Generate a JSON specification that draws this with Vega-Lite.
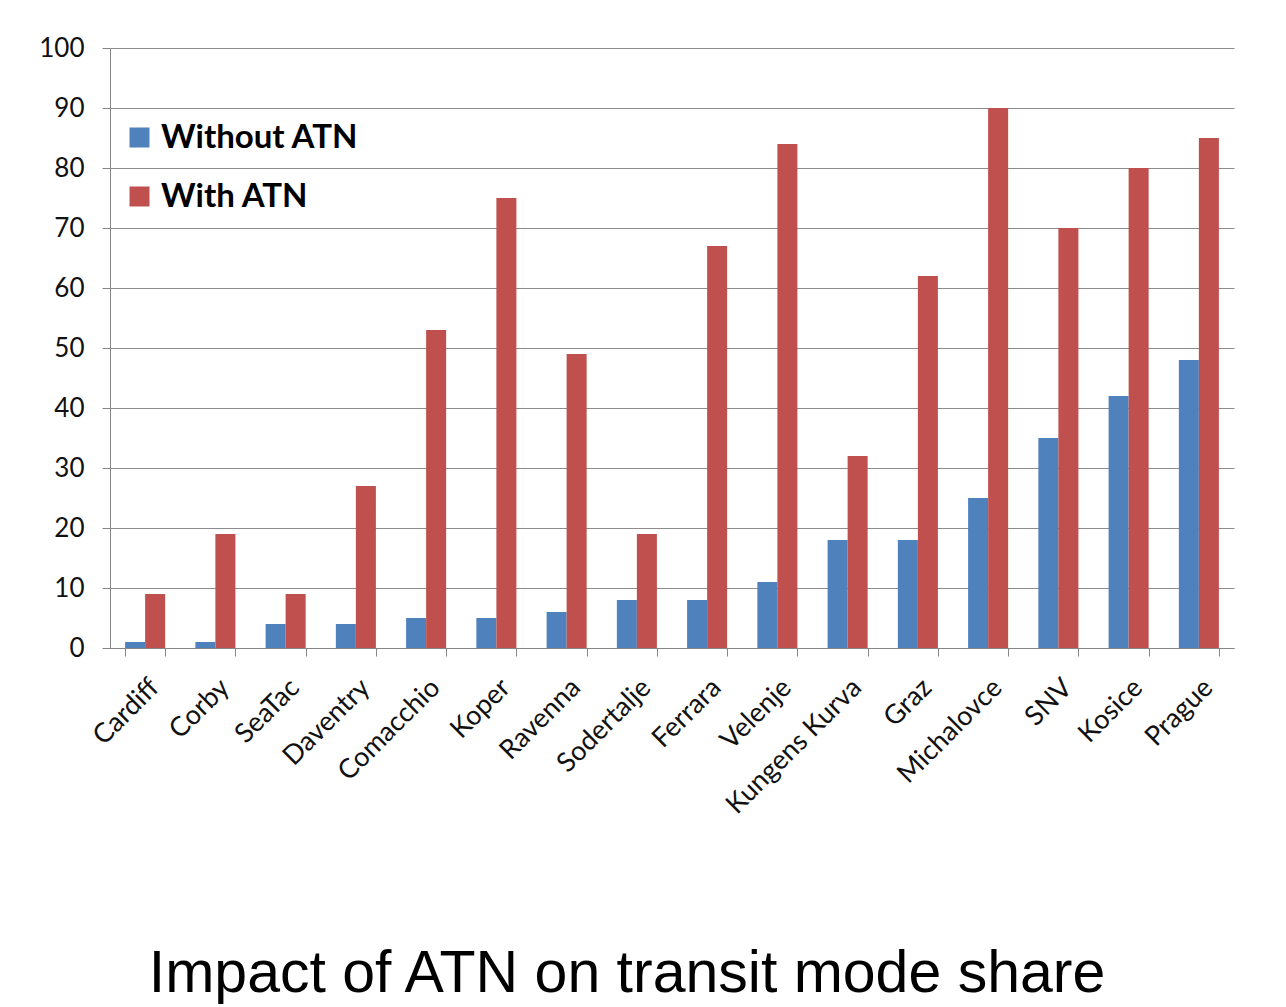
{
  "$schema": "https://vega.github.io/schema/vega-lite/v6.json",
  "width": 1124,
  "height": 600,
  "autosize": {"type": "none"},
  "padding": {"left": 110, "top": 48, "right": 52, "bottom": 359},
  "background": "white",
  "title": {
    "text": "Impact of ATN on transit mode share",
    "orient": "bottom",
    "anchor": "middle",
    "offset": 127,
    "dx": -45,
    "font": "Liberation Sans",
    "fontSize": 59,
    "fontWeight": "normal",
    "color": "#000000"
  },
  "data": {
    "values": [
      {"city": "Cardiff", "series": "Without ATN", "share": 1},
      {"city": "Cardiff", "series": "With ATN", "share": 9},
      {"city": "Corby", "series": "Without ATN", "share": 1},
      {"city": "Corby", "series": "With ATN", "share": 19},
      {"city": "SeaTac", "series": "Without ATN", "share": 4},
      {"city": "SeaTac", "series": "With ATN", "share": 9},
      {"city": "Daventry", "series": "Without ATN", "share": 4},
      {"city": "Daventry", "series": "With ATN", "share": 27},
      {"city": "Comacchio", "series": "Without ATN", "share": 5},
      {"city": "Comacchio", "series": "With ATN", "share": 53},
      {"city": "Koper", "series": "Without ATN", "share": 5},
      {"city": "Koper", "series": "With ATN", "share": 75},
      {"city": "Ravenna", "series": "Without ATN", "share": 6},
      {"city": "Ravenna", "series": "With ATN", "share": 49},
      {"city": "Sodertalje", "series": "Without ATN", "share": 8},
      {"city": "Sodertalje", "series": "With ATN", "share": 19},
      {"city": "Ferrara", "series": "Without ATN", "share": 8},
      {"city": "Ferrara", "series": "With ATN", "share": 67},
      {"city": "Velenje", "series": "Without ATN", "share": 11},
      {"city": "Velenje", "series": "With ATN", "share": 84},
      {"city": "Kungens Kurva", "series": "Without ATN", "share": 18},
      {"city": "Kungens Kurva", "series": "With ATN", "share": 32},
      {"city": "Graz", "series": "Without ATN", "share": 18},
      {"city": "Graz", "series": "With ATN", "share": 62},
      {"city": "Michalovce", "series": "Without ATN", "share": 25},
      {"city": "Michalovce", "series": "With ATN", "share": 90},
      {"city": "SNV", "series": "Without ATN", "share": 35},
      {"city": "SNV", "series": "With ATN", "share": 70},
      {"city": "Kosice", "series": "Without ATN", "share": 42},
      {"city": "Kosice", "series": "With ATN", "share": 80},
      {"city": "Prague", "series": "Without ATN", "share": 48},
      {"city": "Prague", "series": "With ATN", "share": 85}
    ]
  },
  "mark": {"type": "bar"},
  "encoding": {
    "x": {
      "field": "city",
      "type": "nominal",
      "sort": null,
      "title": null,
      "scale": {"paddingInner": 0.43, "paddingOuter": 0.215},
      "axis": {
        "labelAngle": -45,
        "labelFont": "Lato",
        "labelFontSize": 27,
        "labelColor": "#111111",
        "labelPadding": 18,
        "labelLimit": 0,
        "tickBand": "extent",
        "tickSize": 8,
        "tickColor": "#868686",
        "domainColor": "#868686",
        "grid": false
      }
    },
    "xOffset": {
      "field": "series",
      "type": "nominal",
      "sort": ["Without ATN", "With ATN"],
      "scale": {"paddingInner": 0, "paddingOuter": 0}
    },
    "y": {
      "field": "share",
      "type": "quantitative",
      "title": null,
      "scale": {"domain": [0, 100]},
      "axis": {
        "values": [0, 10, 20, 30, 40, 50, 60, 70, 80, 90, 100],
        "labelFont": "Lato",
        "labelFontSize": 26,
        "labelColor": "#111111",
        "labelPadding": 18,
        "tickSize": 8,
        "tickColor": "#868686",
        "domainColor": "#868686",
        "gridColor": "#8c8c8c",
        "gridWidth": 1.2
      }
    },
    "color": {
      "field": "series",
      "type": "nominal",
      "sort": ["Without ATN", "With ATN"],
      "scale": {"domain": ["Without ATN", "With ATN"], "range": ["#4F81BD", "#C0504D"]},
      "legend": {
        "title": null,
        "orient": "none",
        "legendX": 13,
        "legendY": 73,
        "padding": 0,
        "symbolType": "square",
        "symbolSize": 400,
        "symbolStrokeWidth": 0,
        "labelFont": "Lato",
        "labelFontSize": 33,
        "labelFontWeight": "bold",
        "labelColor": "#000000",
        "labelLimit": 0,
        "rowPadding": 25,
        "labelOffset": 5
      }
    }
  },
  "config": {
    "view": {"stroke": null}
  }
}
